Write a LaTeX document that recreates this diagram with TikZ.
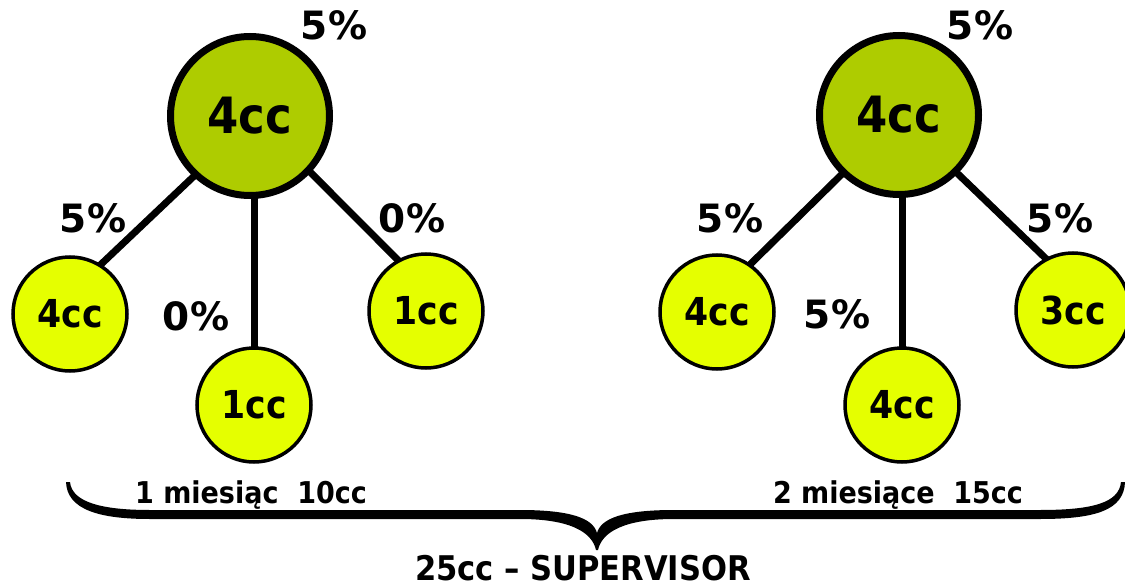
\documentclass[tikz,border=0pt]{standalone}
\usepackage{fontspec}
\setmainfont{DejaVu Sans Condensed}
\newfontfamily\widefont{DejaVu Sans}
\usetikzlibrary{calc,positioning,backgrounds}
\definecolor{hubgreen}{RGB}{174,204,0}
\definecolor{leafyellow}{RGB}{229,255,0}
\tikzset{
    hub/.style = {draw, circle, line width=7pt, fill=hubgreen,
        minimum size=159pt, inner sep=0pt,
        font=\fontsize{50}{60}\selectfont\bfseries},
    leaf/.style = {draw, circle, line width=3.5pt, fill=leafyellow,
        minimum size=114pt, inner sep=0pt,
        font=\fontsize{38.5}{46}\selectfont\bfseries},
    link/.style = {draw, line width=7pt, shorten <=-5pt, shorten >=-5pt},
    pct/.style = {anchor=base, font=\widefont\fontsize{39}{46}\selectfont\bfseries},
    period/.style = {anchor=base, font=\fontsize{30}{36}\selectfont\bfseries},
    total/.style = {anchor=base, font=\fontsize{34}{40}\selectfont\bfseries},
    brace/.style = {fill=black}
}

\begin{document}
\begin{tikzpicture}[x=1pt, y=-1pt]
    \useasboundingbox (0,0) rectangle (1125,586);
    % first month
    \node [hub] (hubA) at (250,116) {4cc};
    \node [leaf] (leafA1) at (70,314) {4cc};
    \node [leaf] (leafA2) at (254,405) {1cc};
    \node [leaf] (leafA3) at (426,311) {1cc};
    % second month
    \node [hub] (hubB) at (899,115) {4cc};
    \node [leaf] (leafB1) at (717,312) {4cc};
    \node [leaf] (leafB2) at (902,405) {4cc};
    \node [leaf] (leafB3) at (1073,310) {3cc};
    \begin{scope}[on background layer]
        \draw [link] (hubA.227) -- (leafA1.58);
        \draw [link] (leafA2.north) -- (leafA2.north |- hubA.south);
        \draw [link] (hubA.317) -- (leafA3.119);
        \draw [link] (hubB.226) -- (leafB1.55);
        \draw [link] (leafB2.north) -- (leafB2.north |- hubB.south);
        \draw [link] (hubB.315) -- (leafB3.118);
    \end{scope}
    % percentages
    \node [pct] (pA0) at (334,40) {5\%};
    \node [pct] (pA1) at (93,232) {5\%};
    \node [pct] (pA2) at (196,330) {0\%};
    \node [pct] (pA3) at (412,232) {0\%};
    \node [pct] (pB0) at (980,40) {5\%};
    \node [pct] (pB1) at (730,232) {5\%};
    \node [pct] (pB2) at (837,328) {5\%};
    \node [pct] (pB3) at (1060,232) {5\%};
    % brace and sums
    \path [brace] (66,482) .. controls (67,510) and (100,519) .. (150,519)
        -- (520,519) .. controls (570,519) and (592,532) .. (596,550)
        -- (598,550) .. controls (602,532) and (624,519) .. (674,519)
        -- (1040,519) .. controls (1096,519) and (1124,510) .. (1125,482)
        -- (1121,482) .. controls (1119,503) and (1092,510) .. (1040,510)
        -- (674,510) .. controls (624,510) and (601,518) .. (597,533)
        .. controls (593,518) and (570,510) .. (520,510)
        -- (150,510) .. controls (104,510) and (72,503) .. (70,482) -- cycle;
    \node [period] (monthA) at (251,503) {1 miesiąc~~10cc};
    \node [period] (monthB) at (898,503) {2 miesiące~~15cc};
    \node [total] (sum) at (583,580) {25cc – SUPERVISOR};
\end{tikzpicture}
\end{document}
